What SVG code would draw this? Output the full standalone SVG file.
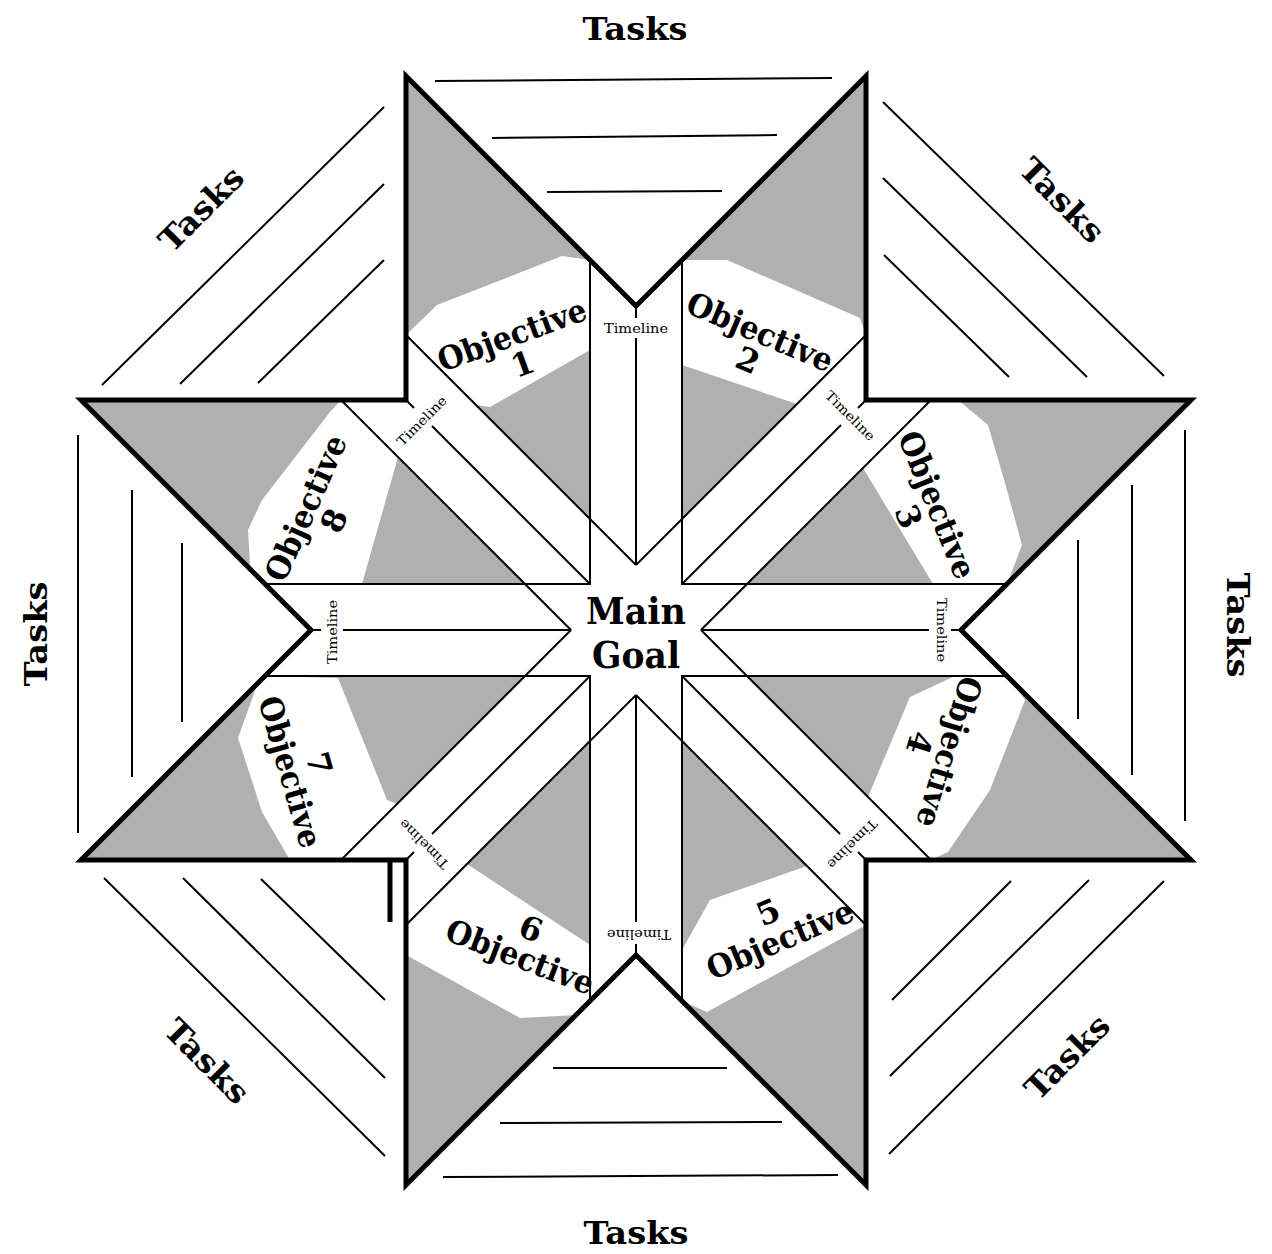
<svg xmlns="http://www.w3.org/2000/svg" width="1272" height="1254" viewBox="0 0 1272 1254">
<style>
.thick{fill:none;stroke:#000;stroke-width:5;stroke-linejoin:miter;stroke-miterlimit:10}
.thin{fill:none;stroke:#000;stroke-width:2}
.gray{fill:#b0b0b0}
.white{fill:#fff}
.obj{font-family:"DejaVu Serif","Liberation Serif",serif;font-weight:bold;font-size:32px;text-anchor:middle}
.tl{font-family:"DejaVu Serif","Liberation Serif",serif;font-size:13px;text-anchor:middle}
.tasks{font-family:"DejaVu Serif","Liberation Serif",serif;font-weight:bold;font-size:32px;text-anchor:middle}
.goal{font-family:"DejaVu Serif","Liberation Serif",serif;font-weight:bold;font-size:37px;text-anchor:middle}
</style>
<rect width="1272" height="1254" fill="#fff"/>

<g id="objective-1">
<polygon class="gray" points="590,519 590,260 406,76 406,335"/>
<polygon class="white" points="406,335 437,305 562,256 590,260 590,350 490,407 476,405"/>
<g transform="translate(512,335) rotate(-20)"><text class="obj" y="11" textLength="156" lengthAdjust="spacingAndGlyphs">Objective</text><text class="obj" y="42">1</text></g>
</g>
<g id="objective-2">
<polygon class="gray" points="682,519 682,260 866,76 866,335"/>
<polygon class="white" points="682,260 727,260 860,318 866,335 797,404 682,365"/>
<g transform="translate(760,332) rotate(23)"><text class="obj" y="11" textLength="156" lengthAdjust="spacingAndGlyphs">Objective</text><text class="obj" y="42">2</text></g>
</g>
<g id="objective-3">
<polygon class="gray" points="747,584 1007,584 1191,400 931,400"/>
<polygon class="white" points="931,400 958,400 988,425 1005,483 1022,545 1007,584 933,584 863,468"/>
<g transform="translate(937,505) rotate(68)"><text class="obj" y="11" textLength="156" lengthAdjust="spacingAndGlyphs">Objective</text><text class="obj" y="42">3</text></g>
</g>
<g id="objective-4">
<polygon class="gray" points="747,676 1007,676 1191,860 931,860"/>
<polygon class="white" points="955,676 1007,676 1025,700 990,790 948,852 931,860 868,797 910,697"/>
<g transform="translate(949,752) rotate(107)"><text class="obj" y="11" textLength="156" lengthAdjust="spacingAndGlyphs">Objective</text><text class="obj" y="42">4</text></g>
</g>
<g id="objective-5">
<polygon class="gray" points="682,741 682,1001 866,1185 866,925"/>
<polygon class="white" points="682,950 710,900 807,866 866,925 707,1012 682,1001"/>
<g transform="translate(780,940) rotate(-23)"><text class="obj" y="11" textLength="156" lengthAdjust="spacingAndGlyphs">Objective</text><text class="obj" y="-19">5</text></g>
</g>
<g id="objective-6">
<polygon class="gray" points="590,741 590,1001 406,1185 406,925"/>
<polygon class="white" points="406,925 467,864 590,945 590,1002 577,1015 520,1018 406,955"/>
<g transform="translate(520,957) rotate(21)"><text class="obj" y="11" textLength="156" lengthAdjust="spacingAndGlyphs">Objective</text><text class="obj" y="-19">6</text></g>
</g>
<g id="objective-7">
<polygon class="gray" points="525,676 265,676 81,860 341,860"/>
<polygon class="white" points="266,676 338,678 387,800 397,804 341,860 290,860 262,812 238,738 256,688"/>
<g transform="translate(290,772) rotate(74)"><text class="obj" y="11" textLength="156" lengthAdjust="spacingAndGlyphs">Objective</text><text class="obj" y="-19">7</text></g>
</g>
<g id="objective-8">
<polygon class="gray" points="525,584 265,584 81,400 341,400"/>
<polygon class="white" points="341,400 398,457 362,584 265,584 250,565 248,530 262,500 330,412"/>
<g transform="translate(306,508) rotate(-66)"><text class="obj" y="11" textLength="156" lengthAdjust="spacingAndGlyphs">Objective</text><text class="obj" y="42">8</text></g>
</g>

<g id="connectors">
<polyline class="thin" points="590,260 590,584 265,584"/>
<polyline class="thin" points="682,260 682,584 1007,584"/>
<polyline class="thin" points="682,1001 682,676 1007,676"/>
<polyline class="thin" points="590,1001 590,676 265,676"/>
<line class="thin" x1="406" y1="335" x2="636" y2="565"/>
<line class="thin" x1="341" y1="400" x2="571" y2="630"/>
<line class="thin" x1="866" y1="335" x2="636" y2="565"/>
<line class="thin" x1="931" y1="400" x2="701" y2="630"/>
<line class="thin" x1="701" y1="630" x2="931" y2="860"/>
<line class="thin" x1="636" y1="695" x2="866" y2="925"/>
<line class="thin" x1="571" y1="630" x2="341" y2="860"/>
<line class="thin" x1="636" y1="695" x2="406" y2="925"/>
<line class="thin" x1="636" y1="338" x2="636" y2="565"/>
<line class="thin" x1="636" y1="922" x2="636" y2="695"/>
<line class="thin" x1="929" y1="630" x2="701" y2="630"/>
<line class="thin" x1="343" y1="630" x2="571" y2="630"/>
<line class="thin" x1="432" y1="426" x2="590" y2="584"/>
<line class="thin" x1="841" y1="425" x2="682" y2="584"/>
<line class="thin" x1="840" y1="834" x2="682" y2="676"/>
<line class="thin" x1="432" y1="834" x2="590" y2="676"/>
<line class="thin" x1="636" y1="306" x2="636" y2="318"/>
<line class="thin" x1="961" y1="630" x2="951" y2="630"/>
<line class="thin" x1="636" y1="955" x2="636" y2="944"/>
<line class="thin" x1="311" y1="630" x2="321" y2="630"/>
<line class="thin" x1="866" y1="400" x2="858" y2="408"/>
<line class="thin" x1="866" y1="860" x2="858" y2="852"/>
<line class="thin" x1="406" y1="860" x2="414" y2="852"/>
<line class="thin" x1="406" y1="400" x2="414" y2="408"/>
</g>

<g id="tasks-lines">
<line class="thin" x1="435" y1="81" x2="832" y2="78"/>
<line class="thin" x1="492" y1="138" x2="777" y2="135"/>
<line class="thin" x1="547" y1="192" x2="722" y2="191"/>
<line class="thin" x1="443" y1="1177" x2="838" y2="1175"/>
<line class="thin" x1="500" y1="1123" x2="782" y2="1122"/>
<line class="thin" x1="553" y1="1068" x2="727" y2="1068"/>
<line class="thin" x1="78" y1="435" x2="78" y2="833"/>
<line class="thin" x1="132" y1="490" x2="132" y2="777"/>
<line class="thin" x1="182" y1="543" x2="182" y2="722"/>
<line class="thin" x1="1185" y1="430" x2="1185" y2="821"/>
<line class="thin" x1="1132" y1="485" x2="1132" y2="775"/>
<line class="thin" x1="1078" y1="540" x2="1078" y2="719"/>
<line class="thin" x1="102" y1="385" x2="384" y2="107"/>
<line class="thin" x1="180" y1="384" x2="384" y2="184"/>
<line class="thin" x1="258" y1="383" x2="384" y2="260"/>
<line class="thin" x1="883" y1="102" x2="1164" y2="376"/>
<line class="thin" x1="883" y1="178" x2="1087" y2="377"/>
<line class="thin" x1="884" y1="255" x2="1009" y2="377"/>
<line class="thin" x1="104" y1="878" x2="385" y2="1156"/>
<line class="thin" x1="183" y1="878" x2="385" y2="1078"/>
<line class="thin" x1="261" y1="879" x2="385" y2="1000"/>
<line class="thin" x1="889" y1="1154" x2="1164" y2="881"/>
<line class="thin" x1="890" y1="1076" x2="1089" y2="880"/>
<line class="thin" x1="892" y1="1000" x2="1011" y2="881"/>
</g>

<g id="outline">
<path class="thick" d="M406,76 L636,306 L866,76 L866,400 L1191,400 L961,630 L1191,860 L866,860 L866,1185 L636,955 L406,1185 L406,860 L81,860 L311,630 L81,400 L406,400 Z"/>
<path class="thick" d="M390,862 L390,922"/>
</g>

<g id="main-goal">
<text class="goal" x="636" y="624" textLength="100" lengthAdjust="spacingAndGlyphs">Main</text>
<text class="goal" x="636" y="668" textLength="88" lengthAdjust="spacingAndGlyphs">Goal</text>
</g>

<g id="timeline-labels">
<text class="tl" transform="translate(636,333)" textLength="64" lengthAdjust="spacingAndGlyphs">Timeline</text>
<text class="tl" transform="translate(847,419) rotate(45)" textLength="64" lengthAdjust="spacingAndGlyphs">Timeline</text>
<text class="tl" transform="translate(937,630) rotate(90)" textLength="64" lengthAdjust="spacingAndGlyphs">Timeline</text>
<text class="tl" transform="translate(849,841) rotate(135)" textLength="64" lengthAdjust="spacingAndGlyphs">Timeline</text>
<text class="tl" transform="translate(639,930) rotate(180)" textLength="64" lengthAdjust="spacingAndGlyphs">Timeline</text>
<text class="tl" transform="translate(427,841) rotate(225)" textLength="64" lengthAdjust="spacingAndGlyphs">Timeline</text>
<text class="tl" transform="translate(337,632) rotate(-90)" textLength="64" lengthAdjust="spacingAndGlyphs">Timeline</text>
<text class="tl" transform="translate(425,424) rotate(-45)" textLength="64" lengthAdjust="spacingAndGlyphs">Timeline</text>
</g>

<g id="tasks-labels">
<text class="tasks" x="635" y="40" textLength="105" lengthAdjust="spacingAndGlyphs">Tasks</text>
<text class="tasks" x="636" y="1244" textLength="105" lengthAdjust="spacingAndGlyphs">Tasks</text>
<text class="tasks" transform="translate(47,634) rotate(-90)" textLength="105" lengthAdjust="spacingAndGlyphs">Tasks</text>
<text class="tasks" transform="translate(1227,625) rotate(90)" textLength="105" lengthAdjust="spacingAndGlyphs">Tasks</text>
<text class="tasks" transform="translate(209,217) rotate(-45)" textLength="105" lengthAdjust="spacingAndGlyphs">Tasks</text>
<text class="tasks" transform="translate(1054,208) rotate(45)" textLength="105" lengthAdjust="spacingAndGlyphs">Tasks</text>
<text class="tasks" transform="translate(199,1069) rotate(45)" textLength="105" lengthAdjust="spacingAndGlyphs">Tasks</text>
<text class="tasks" transform="translate(1075,1065) rotate(-45)" textLength="105" lengthAdjust="spacingAndGlyphs">Tasks</text>
</g>
</svg>
